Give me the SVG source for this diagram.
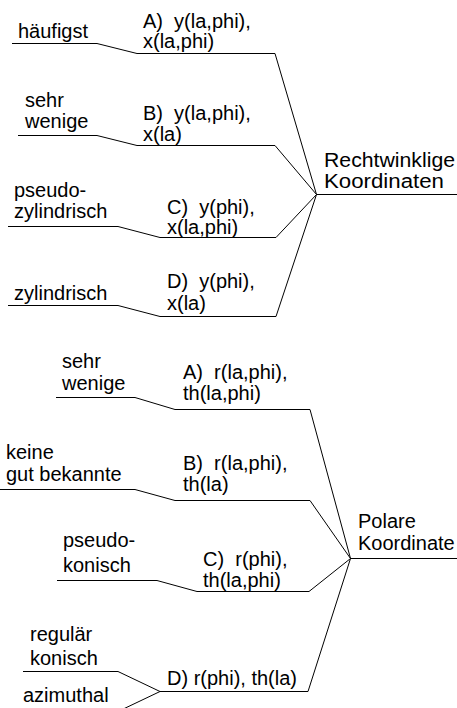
<svg xmlns="http://www.w3.org/2000/svg" width="457" height="708" viewBox="0 0 457 708">
<style>
text{font-family:"Liberation Sans",Arial,sans-serif;font-size:20px;fill:#000;white-space:pre}
.c{fill:none;stroke:#000;stroke-width:1}
</style>
<rect width="457" height="708" fill="#fff"/>
<g id="connectors">
<path class="c" d="M12,43.5 H97 L137,53.5 H275 L316.5,194.5"/>
<path class="c" d="M18,135.5 H97 L137,145.5 H275 L316.5,194.5"/>
<path class="c" d="M8,226.5 H118 L160,237.5 H276 L316.5,194.5"/>
<path class="c" d="M8,305.5 H118 L160,316.5 H276 L316.5,194.5"/>
<path class="c" d="M316.5,194.5 H457"/>
<path class="c" d="M56,397.5 H135 L175,409.5 H310 L350.5,558.5"/>
<path class="c" d="M0,489.5 H135 L175,500.5 H310 L350.5,558.5"/>
<path class="c" d="M57,580.5 H157 L197,591.5 H309 L350.5,558.5"/>
<path class="c" d="M23,671.5 H118 L160,691.5 H308 L350.5,558.5"/>
<path class="c" d="M23,711.5 H118 L160,691.5"/>
<path class="c" d="M350.5,558.5 H457"/>
</g>
<g id="haeufigst"><text x="18" y="38">häufigst</text></g>
<g id="A1"><text x="143" y="28">A)  y(la,phi),</text><text x="143" y="48">x(la,phi)</text></g>
<g id="sehr1"><text x="25" y="107">sehr</text><text x="25" y="128">wenige</text></g>
<g id="B1"><text x="143" y="120">B)  y(la,phi),</text><text x="143" y="141">x(la)</text></g>
<g id="pseudozyl"><text x="14" y="197">pseudo-</text><text x="14" y="218">zylindrisch</text></g>
<g id="C1"><text x="167" y="214">C)  y(phi),</text><text x="167" y="234">x(la,phi)</text></g>
<g id="zyl"><text x="14" y="300">zylindrisch</text></g>
<g id="D1"><text x="167" y="288">D)  y(phi),</text><text x="167" y="310">x(la)</text></g>
<g id="recht"><text x="324" y="167" textLength="131" lengthAdjust="spacingAndGlyphs">Rechtwinklige</text><text x="324" y="188" textLength="120" lengthAdjust="spacingAndGlyphs">Koordinaten</text></g>
<g id="sehr2"><text x="62" y="368">sehr</text><text x="62" y="390">wenige</text></g>
<g id="A2"><text x="183" y="379">A)  r(la,phi),</text><text x="183" y="400">th(la,phi)</text></g>
<g id="keine"><text x="6" y="459">keine</text><text x="6" y="481">gut bekannte</text></g>
<g id="B2"><text x="183" y="470">B)  r(la,phi),</text><text x="183" y="491">th(la)</text></g>
<g id="pseudokon"><text x="63" y="547">pseudo-</text><text x="63" y="572">konisch</text></g>
<g id="C2"><text x="203" y="566">C)  r(phi),</text><text x="203" y="587">th(la,phi)</text></g>
<g id="regkon"><text x="30" y="641">regulär</text><text x="30" y="665">konisch</text></g>
<g id="azimuthal"><text x="23" y="702">azimuthal</text></g>
<g id="D2"><text x="167" y="685">D) r(phi), th(la)</text></g>
<g id="polar"><text x="358" y="528">Polare</text><text x="358" y="550">Koordinate</text></g>
</svg>
